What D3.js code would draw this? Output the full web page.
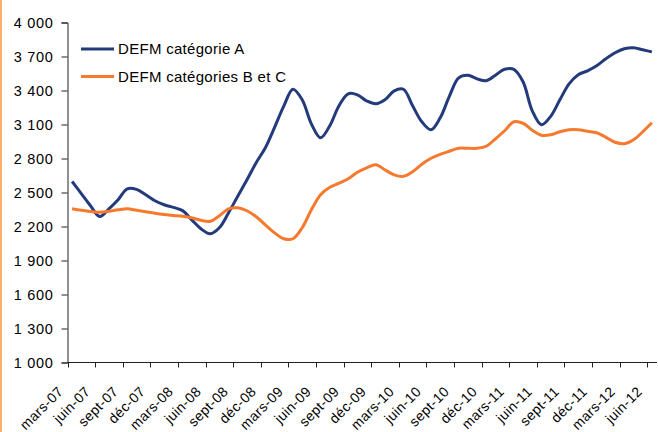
<!DOCTYPE html>
<html><head><meta charset="utf-8">
<script src="https://cdn.jsdelivr.net/npm/d3@7/dist/d3.min.js"></script>
<style>
body{margin:0;background:#fff;}
text{font-family:"Liberation Sans",Arial,sans-serif;fill:#000;}
</style></head>
<body><svg id="c" width="658" height="432"></svg>
<script>
const months = ["2007-03","2007-04","2007-05","2007-06","2007-07","2007-08","2007-09","2007-10","2007-11","2007-12",
"2008-01","2008-02","2008-03","2008-04","2008-05","2008-06","2008-07","2008-08","2008-09","2008-10","2008-11","2008-12",
"2009-01","2009-02","2009-03","2009-04","2009-05","2009-06","2009-07","2009-08","2009-09","2009-10","2009-11","2009-12",
"2010-01","2010-02","2010-03","2010-04","2010-05","2010-06","2010-07","2010-08","2010-09","2010-10","2010-11","2010-12",
"2011-01","2011-02","2011-03","2011-04","2011-05","2011-06","2011-07","2011-08","2011-09","2011-10","2011-11","2011-12",
"2012-01","2012-02","2012-03","2012-04","2012-05","2012-06"];
const tickLabels = ["mars-07","juin-07","sept-07","déc-07","mars-08","juin-08","sept-08","déc-08","mars-09","juin-09","sept-09","déc-09",
"mars-10","juin-10","sept-10","déc-10","mars-11","juin-11","sept-11","déc-11","mars-12","juin-12"];
const seriesNames = ["DEFM catégorie A","DEFM catégories B et C"];
const catA = [2597,2490,2383,2288,2356,2436,2533,2528,2480,2427,2392,2369,2340,2259,2180,2136,2189,2321,2467,2612,
2763,2895,3075,3262,3411,3318,3106,2983,3089,3265,3371,3362,3309,3283,3318,3397,3411,3265,3124,3053,
3159,3350,3512,3535,3503,3486,3535,3587,3587,3477,3221,3097,3172,3318,3459,3539,3574,3618,3680,3733,
3768,3777,3759,3741];
const catBC = [2356,2343,2332,2325,2334,2347,2356,2343,2330,2317,2306,2297,2290,2277,2255,2246,2295,2356,2365,2339,
2286,2215,2144,2092,2092,2189,2347,2480,2546,2582,2621,2678,2718,2744,2700,2656,2643,2683,2749,2802,
2837,2864,2890,2890,2890,2908,2974,3045,3124,3111,3049,3005,3009,3036,3053,3053,3040,3027,2987,2943,
2930,2965,3036,3115];
const yTicks = [1000,1300,1600,1900,2200,2500,2800,3100,3400,3700,4000];
const colors = ["#233A7B","#F57A2E"];

const svg = d3.select("#c");
svg.append("rect").attr("x",0).attr("y",0).attr("width",2).attr("height",432).attr("fill","#F9AE6A");

const x = d3.scaleBand().domain(months).range([67.5, 656.5]).padding(0);
const y = d3.scaleLinear().domain([1000,4000]).range([362.5, 22.5]);

// Y axis
const yAxis = d3.axisLeft(y).tickValues(yTicks).tickSize(6).tickPadding(8)
  .tickFormat(d => d3.format(",")(d).replace(",", " "));
const gy = svg.append("g").attr("transform","translate(67.5,0)").call(yAxis);
gy.select(".domain").attr("stroke","#222");
gy.selectAll(".tick line").attr("stroke","#222");
gy.selectAll(".tick text").attr("font-size","14.5px").attr("fill","#000")
  .attr("font-family","Liberation Sans, Arial, sans-serif").style("letter-spacing","0.7px");

// X axis
const gx = svg.append("g");
gx.append("line").attr("x1",67.5).attr("x2",657).attr("y1",362.5).attr("y2",362.5).attr("stroke","#222");
const tickMonths = months.filter((m,i)=> i%3===0);
tickMonths.forEach((m,i)=>{
  const tx = Math.round(x(m))+0.5;
  gx.append("line").attr("x1",tx).attr("x2",tx).attr("y1",362.5).attr("y2",367.5).attr("stroke","#222");
  gx.append("text").text(tickLabels[i])
    .attr("transform",`translate(${tx-8},${389}) rotate(-45)`)
    .attr("text-anchor","end").attr("dy","0.35em").attr("font-size","14px").style("letter-spacing","0.4px");
});

// Lines
const line = d3.line().x((d,i)=>x(months[i])+x.bandwidth()/2).y(d=>y(d)).curve(d3.curveCatmullRom.alpha(0.5));
[catA, catBC].forEach((s,k)=>{
  svg.append("path").datum(s).attr("d",line).attr("fill","none")
    .attr("stroke",colors[k]).attr("stroke-width",3).attr("stroke-linejoin","round");
});

// Legend
seriesNames.forEach((n,k)=>{
  const ly = 49 + k*27.5;
  svg.append("line").attr("x1",81).attr("x2",114).attr("y1",ly).attr("y2",ly)
    .attr("stroke",colors[k]).attr("stroke-width",3);
  svg.append("text").text(n).attr("x",118).attr("y",ly).attr("dy","0.35em")
    .attr("font-size","15px").style("letter-spacing","0.3px");
});
</script></body></html>
